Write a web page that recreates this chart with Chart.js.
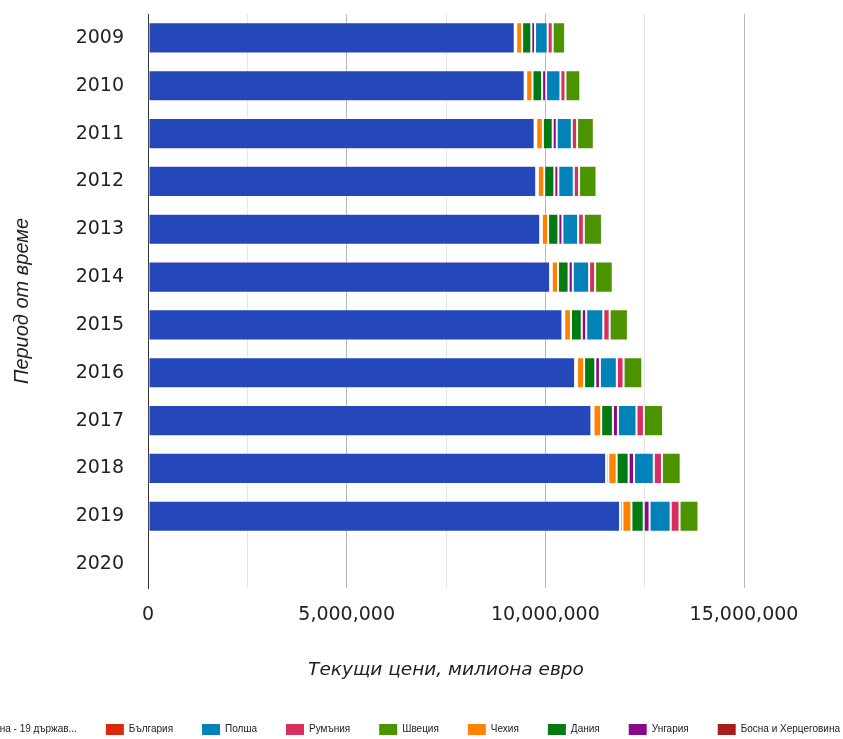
<!DOCTYPE html>
<html>
<head>
<meta charset="utf-8">
<script src="https://cdn.jsdelivr.net/npm/chart.js@4"></script>
<style>
  html, body { margin: 0; padding: 0; background: #fff; overflow: hidden; }
  #wrap { position: relative; width: 989px; height: 745px; margin-left: -120px; }
</style>
</head>
<body>
<div id="wrap"><canvas id="productChart"></canvas></div>
<script>
const years = ['2009', '2010', '2011', '2012', '2013', '2014', '2015', '2016', '2017', '2018', '2019', '2020'];

// current prices, million euro
const euroArea = [9230000, 9480000, 9730000, 9770000, 9870000, 10120000, 10430000, 10750000, 11160000, 11530000, 11880000, null];
const bulgaria = [37300, 38200, 41300, 41900, 41900, 43000, 45300, 48100, 51700, 55200, 60700, null];
const czechia = [148700, 157900, 166500, 161400, 157700, 156700, 169600, 177400, 194100, 210000, 225600, null];
const denmark = [231300, 243200, 247900, 254600, 258700, 265800, 272400, 282100, 294800, 301900, 310600, null];
const hungary = [94000, 99000, 101000, 99000, 101500, 105600, 111600, 115700, 126700, 135500, 146100, null];
const poland = [318000, 362000, 380000, 389000, 395000, 411000, 430000, 426000, 467000, 497000, 532000, null];
const romania = [126000, 126000, 133000, 133000, 144000, 150000, 160000, 170000, 187000, 206000, 223000, null];
const sweden = [313000, 374000, 420000, 439000, 456000, 444000, 459000, 471000, 483000, 471000, 476000, null];
const bosnia = [12600, 12700, 13200, 13300, 13500, 13900, 14600, 15300, 16000, 17100, 18300, null];

const xTicks = [0, 5000000, 10000000, 15000000];

// stacking order is dataset order, legend has its own order
const legendOrder = [0, 1, 5, 6, 7, 2, 3, 4, 8];

const tickFont = 'Tahoma, "DejaVu Sans", sans-serif';

function makeSet(label, data, color) {
  return {
    label: label,
    data: data,
    backgroundColor: color,
    borderColor: 'rgba(255, 255, 255, 0.35)',
    borderWidth: 1,
    borderSkipped: false,
    barPercentage: 0.65,
    categoryPercentage: 1
  };
}

const datasets = [
  makeSet('Еврозона - 19 държави (от 2015)', euroArea, '#2447b9'),
  makeSet('България', bulgaria, '#d8290c'),
  makeSet('Чехия', czechia, '#ff8200'),
  makeSet('Дания', denmark, '#037a12'),
  makeSet('Унгария', hungary, '#870a8a'),
  makeSet('Полша', poland, '#0282b8'),
  makeSet('Румъния', romania, '#d92e60'),
  makeSet('Швеция', sweden, '#4c9300'),
  makeSet('Босна и Херцеговина', bosnia, '#a91d1f')
];

const ctx = document.getElementById('productChart');

new Chart(ctx, {
  type: 'bar',
  data: { labels: years, datasets },
  options: {
    indexAxis: 'y',
    responsive: true,
    maintainAspectRatio: false,
    animation: false,
    layout: { padding: { top: 14, right: 0, bottom: 0, left: 0 } },
    scales: {
      x: {
        stacked: true,
        min: 0,
        max: 15000000,
        border: { display: false },
        grid: {
          drawTicks: false,
          color: c => {
            const v = c.tick ? c.tick.value : 0;
            if (v === 0) return '#333333';
            return xTicks.includes(v) ? '#b8b8b8' : '#e6e6e6';
          }
        },
        ticks: {
          stepSize: 2500000,
          autoSkip: false,
          maxRotation: 0,
          padding: 16,
          color: '#222',
          font: { family: tickFont, size: 19 },
          callback: v => xTicks.includes(v) ? v.toLocaleString('en-US') : ''
        },
        title: {
          display: true,
          text: 'Текущи цени, милиона евро',
          color: '#222',
          font: { family: tickFont, size: 18.5, style: 'italic' },
          padding: { top: 16, bottom: 14 }
        }
      },
      y: {
        stacked: true,
        // tick marks are hidden, their length only pushes the labels away from the axis
        grid: { display: false, drawTicks: true, tickLength: 24 },
        border: { display: true, color: '#333333', width: 1 },
        ticks: {
          padding: 0,
          color: '#222',
          font: { family: tickFont, size: 19 }
        },
        title: {
          display: true,
          text: 'Период от време',
          color: '#222',
          font: { family: '"Liberation Sans", Arial, sans-serif', size: 20, style: 'italic' },
          padding: { top: 130, bottom: 0 }
        },
        afterFit: s => { s.width = 268; }
      },
      yRight: {
        position: 'right',
        type: 'linear',
        display: true,
        grid: { display: false, drawTicks: false },
        border: { display: false },
        ticks: { display: false },
        afterFit: s => { s.width = 125; }
      }
    },
    plugins: {
      legend: {
        position: 'bottom',
        align: 'end',
        labels: {
          boxWidth: 18,
          boxHeight: 11,
          padding: 29,
          color: '#222',
          font: { family: '"Liberation Sans Narrow", "Liberation Sans", sans-serif', size: 10 },
          generateLabels: chart => {
            const items = Chart.defaults.plugins.legend.labels.generateLabels(chart);
            items.forEach(it => {
              it.strokeStyle = it.fillStyle;
              it.lineWidth = 0;
              if (it.text.length > 23) it.text = it.text.slice(0, 20) + '...';
            });
            return items;
          },
          sort: (a, b) => legendOrder.indexOf(a.datasetIndex) - legendOrder.indexOf(b.datasetIndex)
        }
      },
      tooltip: { enabled: false }
    }
  }
});
</script>
</body>
</html>
